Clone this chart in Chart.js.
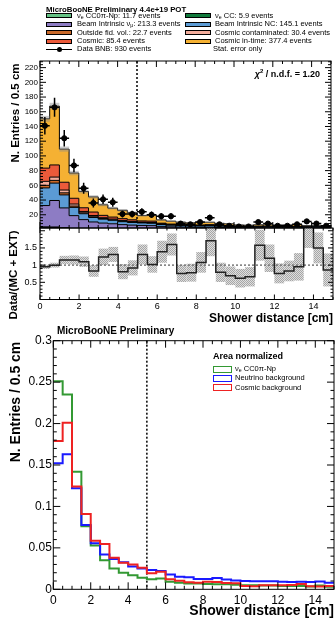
<!DOCTYPE html>
<html>
<head>
<meta charset="utf-8">
<script src="https://cdn.jsdelivr.net/npm/chart.js@4.4.1/dist/chart.umd.min.js"></script>
<style>
  body { margin: 0; width: 336px; height: 619px; background: #fff; position: relative; overflow: hidden;
         font-family: "Liberation Sans", Arial, sans-serif; color: #000; }
  canvas { position: absolute; left: 0; }
  .t { position: absolute; white-space: nowrap; line-height: 1; transform: translateY(-50%); }
  .b { font-weight: bold; }
  .rot { position: absolute; white-space: nowrap; line-height: 1; font-weight: bold; transform: translate(-50%, -50%) rotate(-90deg); }
  .box { position: absolute; box-sizing: border-box; border: 1px solid #000; }
  .sub { font-size: 70%; vertical-align: -1.5px; }
</style>
</head>
<body>

<canvas id="stack" width="336" height="240" style="top:0"></canvas>
<canvas id="ratio" width="336" height="104" style="top:216px"></canvas>
<canvas id="norm" width="336" height="289" style="top:330px"></canvas>

<!-- top legend -->
<div class="t b" style="left:46px;top:10px;font-size:7.8px">MicroBooNE Preliminary 4.4e+19 POT</div>
<div class="box" style="left:46px;top:13.3px;width:26px;height:5px;background:#66c285"></div>
<div class="t" style="left:77px;top:15.8px;font-size:7.5px">ν<span class="sub">e</span> CC0π-Np: 11.7 events</div>
<div class="box" style="left:46px;top:21.8px;width:26px;height:5px;background:#8d7cc4"></div>
<div class="t" style="left:77px;top:24.3px;font-size:7.5px">Beam Intrinsic ν<span class="sub">μ</span>: 213.3 events</div>
<div class="box" style="left:46px;top:30.3px;width:26px;height:5px;background:#c9692a"></div>
<div class="t" style="left:77px;top:32.8px;font-size:7.5px">Outside fid. vol.: 22.7 events</div>
<div class="box" style="left:46px;top:38.8px;width:26px;height:5px;background:#eb5a3a"></div>
<div class="t" style="left:77px;top:41.3px;font-size:7.5px">Cosmic: 85.4 events</div>
<div style="position:absolute;left:46px;top:49px;width:26px;height:1px;background:#000"></div>
<div style="position:absolute;left:56.5px;top:47px;width:5px;height:5px;border-radius:50%;background:#000"></div>
<div class="t" style="left:77px;top:49.4px;font-size:7.5px">Data BNB: 930 events</div>

<div class="box" style="left:185px;top:13.3px;width:26px;height:5px;background:#117a3c"></div>
<div class="t" style="left:215px;top:15.8px;font-size:7.5px">ν<span class="sub">e</span> CC: 5.9 events</div>
<div class="box" style="left:185px;top:21.8px;width:26px;height:5px;background:#5b9bd5"></div>
<div class="t" style="left:215px;top:24.3px;font-size:7.5px">Beam Intrinsic NC: 145.1 events</div>
<div class="box" style="left:185px;top:30.3px;width:26px;height:5px;background:#f3ad9c"></div>
<div class="t" style="left:215px;top:32.8px;font-size:7.5px">Cosmic contaminated: 30.4 events</div>
<div class="box" style="left:185px;top:38.8px;width:26px;height:5px;background:#f5b133"></div>
<div class="t" style="left:215px;top:41.3px;font-size:7.5px">Cosmic in-time: 377.4 events</div>
<div class="t" style="left:213px;top:49.4px;font-size:7.5px">Stat. error only</div>

<div class="t b" style="right:16px;top:73px;font-size:9px"><i>χ</i><span style="font-size:6px;vertical-align:4px">2</span> / n.d.f. = 1.20</div>

<div class="rot" style="left:16px;top:113px;font-size:11.5px">N. Entries / 0.5 cm</div>
<div class="rot" style="left:14px;top:275px;font-size:11.5px">Data/(MC + EXT)</div>
<div class="t b" style="right:3px;top:318px;font-size:12px">Shower distance [cm]</div>

<!-- bottom panel -->
<div class="t b" style="left:57px;top:330.7px;font-size:10px">MicroBooNE Preliminary</div>
<div class="t b" style="left:213px;top:355.7px;font-size:9px">Area normalized</div>
<div class="box" style="left:213px;top:365.6px;width:18.5px;height:7px;border:1.5px solid #339933"></div>
<div class="t" style="left:235px;top:369px;font-size:7.5px">ν<span class="sub">e</span> CC0π-Np</div>
<div class="box" style="left:213px;top:374.9px;width:18.5px;height:7px;border:1.5px solid #1a1aff"></div>
<div class="t" style="left:235px;top:378.3px;font-size:7.5px">Neutrino background</div>
<div class="box" style="left:213px;top:384.2px;width:18.5px;height:7px;border:1.5px solid #ee2222"></div>
<div class="t" style="left:235px;top:387.7px;font-size:7.5px">Cosmic background</div>
<div class="rot" style="left:15px;top:401.5px;font-size:14px">N. Entries / 0.5 cm</div>
<div class="t b" style="right:2px;top:609.5px;font-size:14px">Shower distance [cm]</div>

<script>
const binEdges = [0, 0.5, 1, 1.5, 2, 2.5, 3, 3.5, 4, 4.5, 5, 5.5, 6, 6.5, 7, 7.5, 8, 8.5, 9, 9.5,
                  10, 10.5, 11, 11.5, 12, 12.5, 13, 13.5, 14, 14.5, 15];
const xTickValues = [0, 2, 4, 6, 8, 10, 12, 14];
const stackTickValues = [20, 40, 60, 80, 100, 120, 140, 160, 180, 200, 220];
const ratioTickValues = [0.5, 1, 1.5];
const normTickValues = [0, 0.05, 0.1, 0.15, 0.2, 0.25, 0.3];

// stacked MC, events per bin (bottom to top)
const nueCC0piNp = [2.9, 2.7, 1.7, 0.9, 0.6, 0.4, 0.3, 0.25, 0.2, 0.15, 0.15, 0.15, 0.1, 0.1, 0.1,
                    0.1, 0.08, 0.07, 0.07, 0.06, 0.06, 0.06, 0.05, 0.05, 0.05, 0.05, 0.05, 0.04, 0.05, 0.04];
const nueCC = [0.6, 0.7, 0.6, 0.4, 0.3, 0.3, 0.2, 0.2, 0.2, 0.2, 0.15, 0.15, 0.1, 0.1, 0.1,
               0.1, 0.1, 0.1, 0.1, 0.1, 0.1, 0.1, 0.1, 0.1, 0.1, 0.1, 0.1, 0.1, 0.1, 0.1];
const beamNumu = [29, 36, 27, 17.5, 12.5, 9.5, 8.2, 7.3, 6.2, 5.6, 5.2, 4.9, 4.0, 3.4, 3.2,
                  2.8, 2.8, 3.0, 2.6, 2.3, 2.2, 2.2, 2.2, 2.1, 2.0, 1.9, 2.0, 1.9, 2.1, 1.8];
const beamNC = [24, 23.6, 17.7, 11.2, 8.0, 6.1, 5.3, 4.7, 4.0, 3.6, 3.4, 3.2, 2.6, 2.2, 2.1,
                1.8, 1.8, 2.0, 1.7, 1.5, 1.5, 1.4, 1.4, 1.4, 1.3, 1.3, 1.3, 1.3, 1.4, 1.2];
const outFV = [3.5, 3.7, 2.8, 1.8, 1.3, 1.0, 0.8, 0.7, 0.6, 0.6, 0.5, 0.5, 0.4, 0.35, 0.3,
               0.3, 0.3, 0.3, 0.25, 0.25, 0.25, 0.2, 0.2, 0.2, 0.2, 0.2, 0.2, 0.2, 0.2, 0.2];
const cosmicCont = [5.4, 4.5, 3.8, 2.8, 1.8, 1.7, 1.2, 1.0, 0.9, 0.8, 0.6, 0.65, 0.35, 0.3, 0.25,
                    0.25, 0.3, 0.3, 0.2, 0.2, 0.15, 0.1, 0.15, 0.15, 0.15, 0.15, 0.2, 0.1, 0.1, 0.1];
const cosmic = [18, 16.5, 10.6, 7.8, 5.0, 4.7, 3.2, 2.7, 2.6, 2.2, 1.6, 1.8, 1.0, 0.9, 0.7,
                0.7, 0.8, 0.75, 0.6, 0.6, 0.35, 0.3, 0.4, 0.4, 0.4, 0.45, 0.55, 0.3, 0.3, 0.35];
const cosmicInTime = [67, 80, 45, 34.3, 22.1, 20.6, 14.3, 12.1, 11.3, 9.8, 7.3, 8.0, 4.5, 3.9, 3.2,
                      3.0, 3.5, 3.3, 2.8, 2.7, 1.5, 1.4, 1.9, 1.9, 1.9, 2.0, 2.5, 1.4, 1.3, 1.5];
const mcStatErr = [4, 4.5, 3.5, 3, 2.5, 2.3, 2, 1.8, 1.7, 1.6, 1.4, 1.4, 1.2, 1.1, 1,
                   1, 1, 1, 0.9, 0.9, 0.8, 0.8, 0.8, 0.8, 0.8, 0.8, 0.9, 0.8, 0.8, 0.8];

const dataBNB = [141, 166, 124, 87, 56, 36, 41, 37, 21, 21, 24, 20, 18, 18, 8,
                 7, 10, 16, 7, 5, 4, 4, 10, 8, 5, 5, 7, 11, 8, 5];
const dataErr = [11.9, 12.9, 11.1, 9.3, 7.5, 6, 6.4, 6.1, 4.6, 4.6, 4.9, 4.5, 4.2, 4.2, 2.8,
                 2.6, 3.2, 4, 2.6, 2.2, 2, 2, 3.2, 2.8, 2.2, 2.2, 2.6, 3.3, 2.8, 2.2];

const ratio = [0.95, 1.0, 1.15, 1.15, 1.1, 0.83, 1.24, 1.31, 0.81, 0.92, 1.31, 1.02, 1.39, 1.6, 0.76,
               0.78, 1.08, 1.71, 0.79, 0.69, 0.62, 0.66, 1.58, 1.2, 0.76, 0.83, 0.95, 2.3, 1.5, 0.86];
const ratioErr = [0.06, 0.07, 0.12, 0.13, 0.15, 0.17, 0.24, 0.22, 0.22, 0.22, 0.29, 0.24, 0.32, 0.32, 0.25,
                  0.26, 0.3, 0.45, 0.28, 0.27, 0.27, 0.28, 0.45, 0.4, 0.29, 0.3, 0.4, 0.8, 0.45, 0.48];

// area normalized shapes
const normSignal = [0.251, 0.235, 0.142, 0.076, 0.053, 0.035, 0.025, 0.020, 0.017, 0.014, 0.012, 0.013, 0.009, 0.008, 0.007,
                    0.007, 0.0065, 0.006, 0.006, 0.0055, 0.005, 0.005, 0.0045, 0.0045, 0.004, 0.004, 0.004, 0.0035, 0.0045, 0.003];
const normNeutrino = [0.152, 0.163, 0.122, 0.0775, 0.0555, 0.042, 0.0365, 0.0325, 0.0275, 0.025, 0.0233, 0.022, 0.018, 0.0152, 0.0145,
                      0.0125, 0.0125, 0.0135, 0.0118, 0.0105, 0.010, 0.0098, 0.0098, 0.0096, 0.0092, 0.0088, 0.009, 0.0088, 0.0095, 0.008];
const normCosmic = [0.179, 0.201, 0.124, 0.091, 0.0586, 0.0546, 0.038, 0.032, 0.030, 0.026, 0.0193, 0.0212, 0.012, 0.0104, 0.0084,
                    0.008, 0.0092, 0.0088, 0.0075, 0.0072, 0.004, 0.0038, 0.005, 0.005, 0.005, 0.0052, 0.0065, 0.0038, 0.0035, 0.004];

Chart.defaults.font.family = '"Liberation Sans", Arial, sans-serif';
Chart.defaults.color = '#000';

// histogram as step line: one point per lower bin edge plus the last edge
function stepPoints(vals) {
  const pts = vals.map((v, i) => ({ x: binEdges[i], y: v }));
  pts.push({ x: binEdges[vals.length], y: vals[vals.length - 1] });
  return pts;
}

function fixedTicks(values) {
  return s => { s.ticks = values.map(v => ({ value: v })); };
}

const fmt = v => String(+Number(v).toFixed(3));

// ROOT style frame with inward ticks on all sides
const rootFrame = {
  id: 'rootFrame',
  afterDraw(chart, args, o) {
    const { ctx, chartArea: a } = chart;
    const x = chart.scales.x, y = chart.scales.y;
    const steps = (lo, hi, st) => {
      const out = [];
      for (let k = Math.ceil(lo / st - 1e-6); k * st <= hi + 1e-9; k++) out.push(k * st);
      return out;
    };
    const isMajor = (v, m) => Math.abs(v / m - Math.round(v / m)) < 1e-6;
    ctx.save();
    ctx.strokeStyle = '#000';
    ctx.lineWidth = 1;
    ctx.beginPath();
    steps(x.min, x.max, o.xMinor).forEach(v => {
      const len = isMajor(v, o.xMajor) ? o.xLen : o.xLen / 2;
      const px = x.getPixelForValue(v);
      ctx.moveTo(px, a.bottom); ctx.lineTo(px, a.bottom - len);
      ctx.moveTo(px, a.top); ctx.lineTo(px, a.top + len);
    });
    steps(y.min, y.max, o.yMinor).forEach(v => {
      const len = isMajor(v, o.yMajor) ? o.yLen : o.yLen / 2;
      const py = y.getPixelForValue(v);
      ctx.moveTo(a.left, py); ctx.lineTo(a.left + len, py);
      ctx.moveTo(a.right, py); ctx.lineTo(a.right - len, py);
    });
    ctx.stroke();
    ctx.strokeRect(a.left, a.top, a.right - a.left, a.bottom - a.top);
    ctx.restore();
  }
};

function vLine(chart, xv, color, width) {
  const { ctx, chartArea: a } = chart;
  const px = chart.scales.x.getPixelForValue(xv);
  ctx.save();
  ctx.strokeStyle = color;
  ctx.lineWidth = width;
  ctx.setLineDash([2, 2]);
  ctx.beginPath();
  ctx.moveTo(px, a.top); ctx.lineTo(px, a.bottom);
  ctx.stroke();
  ctx.restore();
}

const commonOpts = {
  responsive: false,
  animation: false,
  events: [],
  devicePixelRatio: 1,
};

// ---------- stacked panel ----------
const layers = [
  { name: 'nue CC0pi-Np', values: nueCC0piNp, color: '#66c285' },
  { name: 'nue CC', values: nueCC, color: '#117a3c' },
  { name: 'Beam intrinsic numu', values: beamNumu, color: '#8d7cc4' },
  { name: 'Beam intrinsic NC', values: beamNC, color: '#5b9bd5' },
  { name: 'Outside fid. vol.', values: outFV, color: '#c9692a' },
  { name: 'Cosmic contaminated', values: cosmicCont, color: '#f3ad9c' },
  { name: 'Cosmic', values: cosmic, color: '#eb5a3a' },
  { name: 'Cosmic in-time', values: cosmicInTime, color: '#f5b133' }
];

const mcTotal = binEdges.slice(0, -1).map((_, i) => layers.reduce((s, l) => s + l.values[i], 0));

const stackExtras = {
  id: 'stackExtras',
  beforeDatasetDraw(chart, args) {
    if (args.index !== layers.length) return;
    const { ctx, chartArea: a, scales: { x, y } } = chart;
    ctx.save();
    ctx.beginPath();
    ctx.rect(a.left, a.top, a.right - a.left, a.bottom - a.top);
    ctx.clip();
    ctx.fillStyle = 'rgba(140,140,140,0.45)';
    mcTotal.forEach((t, i) => {
      const x0 = x.getPixelForValue(binEdges[i]), x1 = x.getPixelForValue(binEdges[i + 1]);
      const y0 = y.getPixelForValue(t + mcStatErr[i]), y1 = y.getPixelForValue(t - mcStatErr[i]);
      ctx.fillRect(x0, y0, x1 - x0, y1 - y0);
    });
    ctx.restore();
    vLine(chart, 5, '#000', 1.5);
  },
  afterDatasetsDraw(chart) {
    const { ctx, chartArea: a, scales: { x, y } } = chart;
    ctx.save();
    ctx.beginPath();
    ctx.rect(a.left, a.top, a.right - a.left, a.bottom - a.top);
    ctx.clip();
    ctx.strokeStyle = '#000';
    ctx.lineWidth = 1.5;
    ctx.beginPath();
    dataBNB.forEach((d, i) => {
      const cx = x.getPixelForValue((binEdges[i] + binEdges[i + 1]) / 2);
      const cy = y.getPixelForValue(d);
      ctx.moveTo(cx, y.getPixelForValue(d + dataErr[i]));
      ctx.lineTo(cx, y.getPixelForValue(d - dataErr[i]));
      ctx.moveTo(x.getPixelForValue(binEdges[i]), cy);
      ctx.lineTo(x.getPixelForValue(binEdges[i + 1]), cy);
    });
    ctx.stroke();
    ctx.restore();
  }
};

new Chart(document.getElementById('stack'), {
  type: 'line',
  data: {
    datasets: [
      ...layers.map((l, i) => ({
        label: l.name,
        data: stepPoints(l.values),
        stepped: true,
        fill: i === 0 ? 'origin' : '-1',
        backgroundColor: l.color,
        borderColor: '#000',
        borderWidth: 1,
        pointRadius: 0
      })),
      {
        type: 'scatter',
        label: 'Data BNB',
        data: dataBNB.map((d, i) => ({ x: (binEdges[i] + binEdges[i + 1]) / 2, y: d })),
        stack: 'data',
        order: -1,
        pointRadius: 2.6,
        backgroundColor: '#000',
        borderColor: '#000'
      }
    ]
  },
  options: {
    ...commonOpts,
    layout: { padding: { top: 61, bottom: 12, left: 0, right: 3 } },
    scales: {
      x: { type: 'linear', min: 0, max: 15, display: false },
      y: {
        stacked: true, min: 2, max: 229,
        grid: { display: false, drawTicks: false }, border: { display: false },
        afterBuildTicks: fixedTicks(stackTickValues),
        afterFit: s => { s.width = 40; },
        ticks: { font: { size: 8 }, padding: 2, callback: fmt }
      }
    },
    plugins: {
      legend: { display: false }, tooltip: { enabled: false },
      rootFrame: { xMajor: 2, xMinor: 0.5, xLen: 6, yMajor: 20, yMinor: 4, yLen: 6 }
    }
  },
  plugins: [stackExtras, rootFrame]
});

// ---------- ratio panel ----------
const hatch = document.createElement('canvas');
hatch.width = 2; hatch.height = 2;
{
  const h = hatch.getContext('2d');
  h.fillStyle = '#dedede'; h.fillRect(0, 0, 2, 2);
  h.fillStyle = '#a6a6a6'; h.fillRect(0, 0, 1, 1); h.fillRect(1, 1, 1, 1);
}

const ratioExtras = {
  id: 'ratioExtras',
  beforeDatasetsDraw(chart) {
    const { ctx, chartArea: a, scales: { x, y } } = chart;
    ctx.save();
    ctx.beginPath();
    ctx.rect(a.left, a.top, a.right - a.left, a.bottom - a.top);
    ctx.clip();
    ctx.fillStyle = ctx.createPattern(hatch, 'repeat');
    ratio.forEach((r, i) => {
      const x0 = x.getPixelForValue(binEdges[i]), x1 = x.getPixelForValue(binEdges[i + 1]);
      const y0 = y.getPixelForValue(r + ratioErr[i]), y1 = y.getPixelForValue(r - ratioErr[i]);
      ctx.fillRect(x0, y0, x1 - x0, y1 - y0);
    });
    const py = y.getPixelForValue(1);
    ctx.strokeStyle = '#777';
    ctx.lineWidth = 1.5;
    ctx.setLineDash([2, 2]);
    ctx.beginPath();
    ctx.moveTo(a.left, py); ctx.lineTo(a.right, py);
    ctx.stroke();
    ctx.restore();
  }
};

new Chart(document.getElementById('ratio'), {
  type: 'line',
  data: {
    datasets: [{
      label: 'Data/(MC + EXT)',
      data: stepPoints(ratio),
      stepped: true,
      fill: false,
      borderColor: '#222',
      borderWidth: 1.5,
      pointRadius: 0
    }]
  },
  options: {
    ...commonOpts,
    layout: { padding: { top: 12, bottom: 0, left: 0, right: 3 } },
    scales: {
      x: {
        type: 'linear', min: 0, max: 15,
        grid: { display: false, drawTicks: false }, border: { display: false },
        afterBuildTicks: fixedTicks(xTickValues),
        afterFit: s => { s.height = 20.5; },
        ticks: { font: { size: 9 }, padding: 2, maxRotation: 0, callback: fmt }
      },
      y: {
        min: 0, max: 2.08,
        grid: { display: false, drawTicks: false }, border: { display: false },
        afterBuildTicks: fixedTicks(ratioTickValues),
        afterFit: s => { s.width = 40; },
        ticks: { font: { size: 9 }, padding: 3, callback: fmt }
      }
    },
    plugins: {
      legend: { display: false }, tooltip: { enabled: false },
      rootFrame: { xMajor: 2, xMinor: 0.5, xLen: 5, yMajor: 0.5, yMinor: 0.1, yLen: 5 }
    }
  },
  plugins: [ratioExtras, rootFrame]
});

// ---------- area normalized panel ----------
const normExtras = {
  id: 'normExtras',
  beforeDatasetsDraw(chart) { vLine(chart, 5, '#000', 1.5); }
};

new Chart(document.getElementById('norm'), {
  type: 'line',
  data: {
    datasets: [
      { label: 'Cosmic background', data: stepPoints(normCosmic), borderColor: '#ee2222' },
      { label: 'Neutrino background', data: stepPoints(normNeutrino), borderColor: '#1a1aff' },
      { label: 'nue CC0pi-Np', data: stepPoints(normSignal), borderColor: '#339933' }
    ].map(d => Object.assign(d, { stepped: true, fill: false, borderWidth: 2, pointRadius: 0 }))
  },
  options: {
    ...commonOpts,
    layout: { padding: { top: 10.7, bottom: 0, left: 0, right: 2 } },
    scales: {
      x: {
        type: 'linear', min: 0, max: 15,
        grid: { display: false, drawTicks: false }, border: { display: false },
        afterBuildTicks: fixedTicks(xTickValues),
        afterFit: s => { s.height = 29.7; },
        ticks: { font: { size: 12 }, padding: 4, maxRotation: 0, callback: fmt }
      },
      y: {
        min: 0, max: 0.3,
        grid: { display: false, drawTicks: false }, border: { display: false },
        afterBuildTicks: fixedTicks(normTickValues),
        afterFit: s => { s.width = 53.3; },
        ticks: { font: { size: 12 }, padding: 1.5, callback: fmt }
      }
    },
    plugins: {
      legend: { display: false }, tooltip: { enabled: false },
      rootFrame: { xMajor: 2, xMinor: 0.5, xLen: 7, yMajor: 0.05, yMinor: 0.01, yLen: 7 }
    }
  },
  plugins: [normExtras, rootFrame]
});
</script>
</body>
</html>
